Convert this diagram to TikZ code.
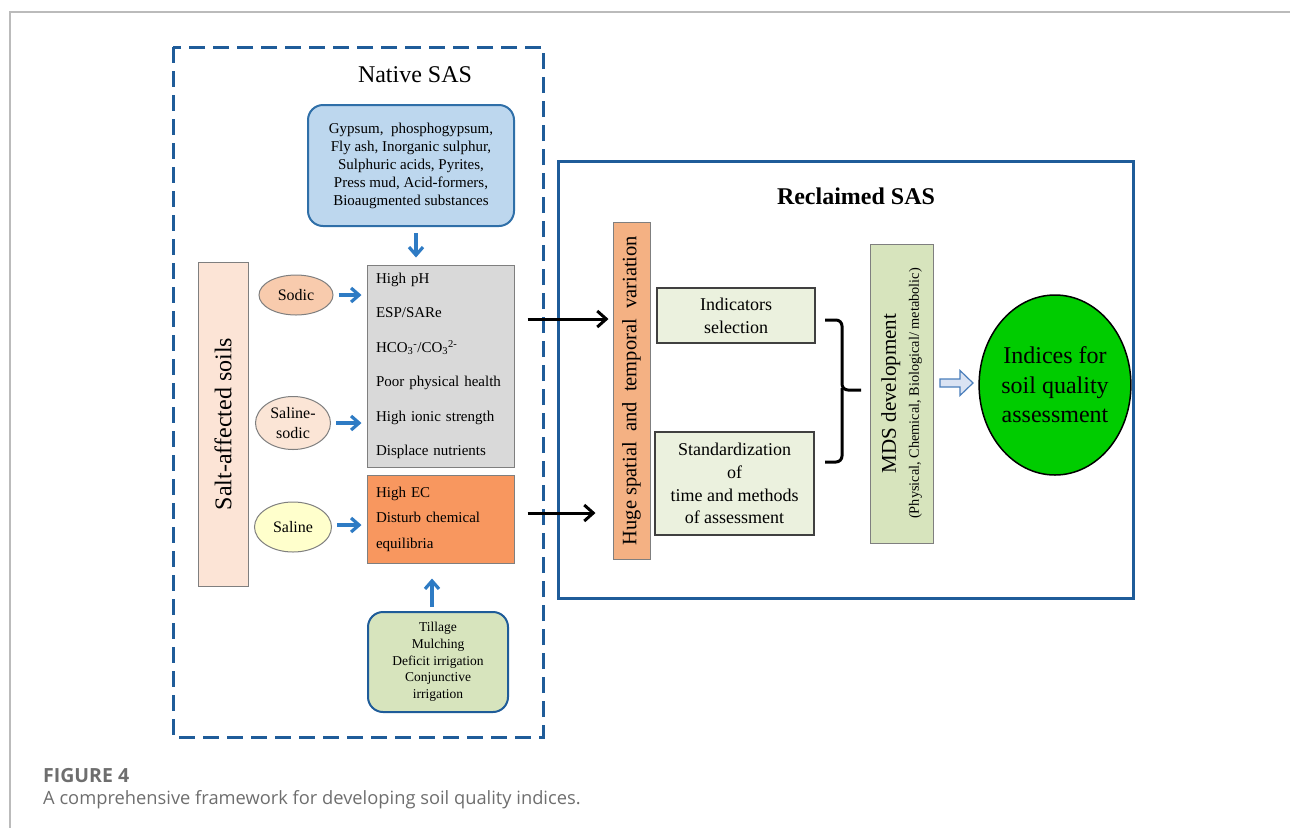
\documentclass[tikz,border=0pt]{standalone}
\usepackage{fontspec}
\setmainfont{Liberation Serif}
\newfontfamily\capfont{Open Sans}
\usepackage{tikz}
\usetikzlibrary{shapes}
\usetikzlibrary{arrows.meta}
\usetikzlibrary{positioning}
\usetikzlibrary{calc}
\definecolor{sasblue}{HTML}{1F5C99}
\definecolor{arrowblue}{HTML}{2E7BC4}
\definecolor{amendfill}{HTML}{BDD7EE}
\definecolor{amendline}{HTML}{2F6FA8}
\definecolor{boxgray}{HTML}{7F7F7F}
\definecolor{greyfill}{HTML}{D9D9D9}
\definecolor{ecfill}{HTML}{F8975F}
\definecolor{saltfill}{HTML}{FCE4D6}
\definecolor{sodicfill}{HTML}{F8CBAD}
\definecolor{salsodfill}{HTML}{FBE5D6}
\definecolor{salinefill}{HTML}{FFFFCC}
\definecolor{tillfill}{HTML}{D7E4BD}
\definecolor{hugefill}{HTML}{F4B183}
\definecolor{stepfill}{HTML}{EBF1DE}
\definecolor{mdsfill}{HTML}{D7E4BD}
\definecolor{indexgreen}{HTML}{00CC00}
\definecolor{hollowfill}{HTML}{DAE3F3}
\definecolor{hollowline}{HTML}{4A7EBB}
\definecolor{capgray}{HTML}{6E6E6E}
\definecolor{framegray}{HTML}{BBBBBB}
\tikzstyle{titre}=[font=\fontsize{24}{28}\selectfont]
\tikzstyle{amend}=[rectangle,draw=amendline,line width=2pt,rounded corners=15pt,
align=center,inner sep=0pt]
\tikzstyle{soiltype}=[ellipse,draw=boxgray,line width=1pt,align=center,inner sep=0pt,
font=\fontsize{16}{20}\selectfont]
\tikzstyle{props}=[rectangle,draw=boxgray,line width=1pt,align=left,text width=129pt,
inner xsep=9pt,inner ysep=0pt,font=\fontsize{15}{34.5}\selectfont]
\tikzstyle{bar}=[rectangle,draw=boxgray,line width=1pt,rotate=90,align=center,inner sep=0pt]
\tikzstyle{etape}=[rectangle,draw=darkgray,line width=1.2pt,fill=stepfill,align=center,
inner sep=0pt,font=\fontsize{18}{22.7}\selectfont]
\tikzstyle{fleche}=[-{Straight Barb[length=8pt,width=14pt]},line width=3.2pt,draw=arrowblue]
\tikzstyle{suite}=[-{Straight Barb[length=9pt,width=16pt]},line width=3pt]
\begin{document}
\begin{tikzpicture}[x=1pt,y=-1pt]
\useasboundingbox (0,0) rectangle (1290,828);
\draw[framegray,line width=1.5pt] (1290,12) -- (10,12) -- (10,828);
\draw[sasblue,line width=3pt,dash pattern=on 16pt off 8pt] (173,47) rectangle (543,737);
\draw[sasblue,line width=3pt] (558,161) rectangle (1133,598);
\node[titre] (native) at (415,75) {Native SAS};
\node[titre,font=\bfseries\fontsize{24}{28}\selectfont] (reclaimed) at (856,196) {Reclaimed SAS};
\node[amend,fill=amendfill,minimum width=206pt,minimum height=121pt,
font=\fontsize{15}{18}\selectfont] (amend) at (411,165.5)
{Gypsum,\ \ phosphogypsum,\\Fly ash, Inorganic sulphur,\\Sulphuric acids, Pyrites,\\
Press mud, Acid-formers,\\Bioaugmented substances};
\node[bar,fill=saltfill,minimum width=324pt,minimum height=50pt,
font=\fontsize{24}{28}\selectfont] (salt) at (223,424) {Salt-affected soils};
\node[soiltype,fill=sodicfill,minimum width=74pt,minimum height=40pt] (sodic) at (296,295) {Sodic};
\node[soiltype,fill=salsodfill,minimum width=75pt,minimum height=53pt] (salsod) at (293,423) {Saline-\\sodic};
\node[soiltype,fill=salinefill,minimum width=77pt,minimum height=50pt] (saline) at (293,527) {Saline};
\node[props,fill=greyfill,minimum height=202pt] (grey) at (440.5,366)
{High pH\\ESP/SARe\\HCO\textsubscript{3}\textsuperscript{-}/CO\textsubscript{3}\textsuperscript{2-}\\
Poor physical health\\High ionic strength\\Displace nutrients};
\node[props,fill=ecfill,minimum height=88pt,font=\fontsize{15}{25.5}\selectfont] (ec) at (440.5,519)
{High EC\\Disturb chemical\\equilibria};
\node[amend,draw=sasblue,fill=tillfill,minimum width=140pt,minimum height=100pt,
font=\fontsize{13.5}{16.7}\selectfont] (till) at (438,662)
{Tillage\\Mulching\\Deficit irrigation\\Conjunctive\\irrigation};
\node[bar,fill=hugefill,minimum width=337pt,minimum height=37pt,
font=\fontsize{20.5}{24}\selectfont] (huge) at (631.5,390.5) {Huge spatial\ \ and\ \ temporal\ \ variation};
\node[etape,minimum width=158pt,minimum height=55pt] (indic) at (736,315.5) {Indicators\\selection};
\node[etape,minimum width=159pt,minimum height=103pt] (stand) at (734.5,483.5)
{Standardization\\of\\time and methods\\of assessment};
\node[bar,fill=mdsfill,minimum width=299pt,minimum height=63pt,
font=\fontsize{21}{23}\selectfont] (mds) at (901.5,393.5)
{MDS development\\{\fontsize{14.3}{16}\selectfont (Physical, Chemical, Biological/ metabolic)}};
\node[ellipse,draw=black,line width=1.5pt,fill=indexgreen,minimum width=143pt,minimum height=180pt,
inner sep=0pt,align=center,font=\fontsize{24}{29.5}\selectfont] (indices) at (1055,385)
{Indices for\\soil quality\\assessment};
\node[anchor=base west,inner sep=0pt,text=capgray,font=\capfont\bfseries\fontsize{19.5}{24}\selectfont]
(fig) at (43,782) {FIGURE 4};
\node[anchor=base west,inner sep=0pt,text=capgray,font=\capfont\fontsize{18.3}{22}\selectfont]
(caption) at (43,804) {A comprehensive framework for developing soil quality indices.};
%Placement des fleches
\draw[fleche,shorten <=6pt,shorten >=7pt] ([xshift=5pt]amend.south) -- ([xshift=5pt]amend.south |- grey.north);
\draw[fleche,shorten <=5pt,shorten >=5pt] (sodic) -- (sodic -| grey.west);
\draw[fleche,shorten <=5pt,shorten >=5pt] (salsod) -- (salsod -| grey.west);
\draw[fleche,shorten <=5pt,shorten >=5pt] ([yshift=2pt]saline.east) -- ([yshift=2pt]saline.east -| ec.west);
\draw[fleche,shorten <=4pt,shorten >=15pt] ([xshift=-6pt]till.north) -- ([xshift=-6pt]till.north |- ec.south);
\draw[suite,shorten <=13pt,shorten >=4pt] ([yshift=47pt]grey.east) -- ([yshift=47pt]grey.east -| huge.north);
\draw[suite,shorten <=13pt,shorten >=17pt] ([yshift=6pt]ec.east) -- ([yshift=6pt]ec.east -| huge.north);
\draw[line width=3pt,rounded corners=6pt] (825,320) -| (842,390) -- (861,390);
\draw[line width=3pt,rounded corners=6pt] (842,388) |- (825,462);
\draw[hollowline,fill=hollowfill,line width=1.2pt] (940,379) -- (960,379) -- (960,370.5) -- (973,383)
-- (960,395.5) -- (960,387) -- (940,387) -- cycle;
\end{tikzpicture}
\end{document}
